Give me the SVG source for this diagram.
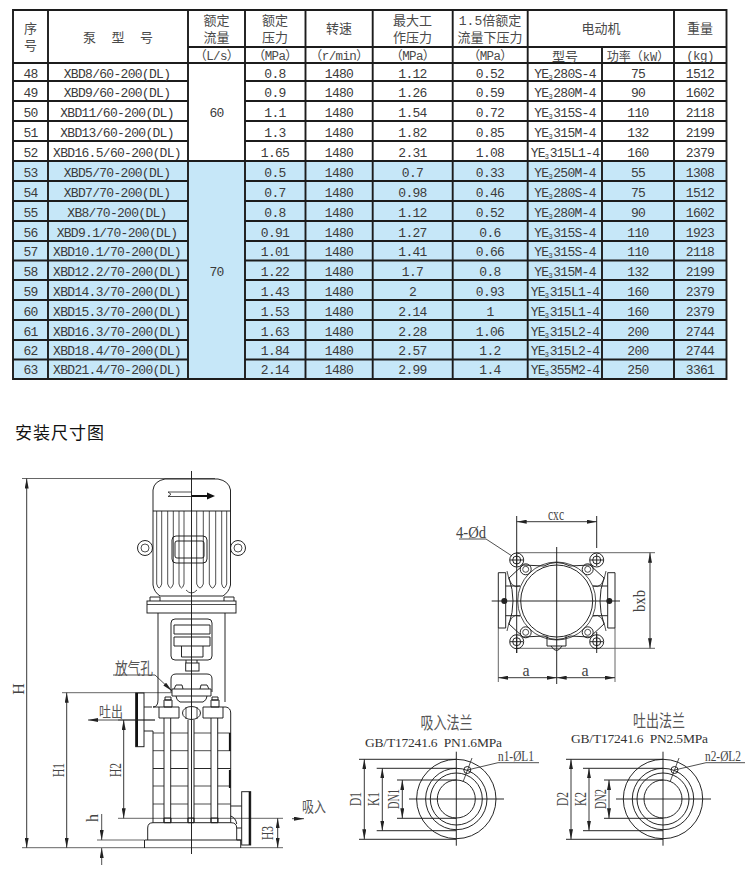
<svg xmlns="http://www.w3.org/2000/svg" width="750" height="892" viewBox="0 0 750 892">
<style>
text{font-family:"Liberation Serif","Noto Sans CJK SC",serif;fill:#333}
.t text{font-family:"Liberation Mono","Noto Sans CJK SC",monospace;font-size:13px;letter-spacing:-.7px;text-anchor:middle;fill:#3a3a3a}
.t .h{font-family:"Liberation Mono","Noto Sans CJK SC",sans-serif;font-size:13px;letter-spacing:0;fill:#4a4a4a}
.t .u{font-size:12.5px;letter-spacing:-.6px;fill:#4a4a4a}
.t .b{font-size:7px;letter-spacing:.6px}
.g{stroke:#1c1c1c;stroke-width:1.9;fill:none}
.d{stroke:#222;stroke-width:.8;fill:none}
.k{stroke:#1a1a1a;stroke-width:.95;fill:none}
.x{stroke:#666;stroke-width:1;fill:none}
.a{stroke:#222;stroke-width:.9;fill:none;marker-start:url(#ar);marker-end:url(#ar)}
.n{font-size:16px;text-anchor:middle;fill:#444}
.c{font-family:"Noto Sans CJK SC",sans-serif;text-anchor:middle;fill:#555}
</style>
<defs>
<marker id="ar" viewBox="0 0 10 4" refX="10" refY="2" markerUnits="userSpaceOnUse" markerWidth="10" markerHeight="4" orient="auto-start-reverse"><path d="M0 0L10 2L0 4z" fill="#222"/></marker>
</defs>
<rect width="750" height="892" fill="#fff"/>

<g id="table">
<rect x="13" y="161" width="713.5" height="218" fill="#c6e7f8"/>
<path class="g" d="M13 10H726.5V379H13ZM48 10V379M188 10V379M245 10V379M305.500 10V379M372.700 10V379M452.700 10V379M527.700 10V379M674 10V379M602 47V379M188 47H726.500M13 63H726.500"/>
<path class="g" d="M13 81H188M245 81H726.500M13 101H188M245 101H726.500M13 121H188M245 121H726.500M13 141H188M245 141H726.500M13 161H726.500M13 181H188M245 181H726.500M13 201H188M245 201H726.500M13 221H188M245 221H726.500M13 241H188M245 241H726.500M13 260.500H188M245 260.500H726.500M13 280H188M245 280H726.500M13 300H188M245 300H726.500M13 320H188M245 320H726.500M13 340H188M245 340H726.500M13 359.500H188M245 359.500H726.500"/>
<g class="t">
<text class="h" x="30.500" y="33">序</text><text class="h" x="30.500" y="50">号</text>
<text class="h" x="118" y="42" xml:space="preserve">泵  型  号</text>
<text class="h" x="216.500" y="25">额定</text><text class="h" x="216.500" y="42">流量</text><text class="u" x="216.500" y="60">（L/s）</text>
<text class="h" x="275" y="25">额定</text><text class="h" x="275" y="42">压力</text><text class="u" x="275" y="60">（MPa）</text>
<text class="h" x="339" y="33">转速</text><text class="u" x="339" y="60">（r/min）</text>
<text class="h" x="412.500" y="25">最大工</text><text class="h" x="412.500" y="42">作压力</text><text class="u" x="412.500" y="60">（MPa）</text>
<text class="h" x="490" y="25">1.5倍额定</text><text class="h" x="490" y="42">流量下压力</text><text class="u" x="490" y="60">（MPa）</text>
<text class="h" x="601" y="33">电动机</text><text class="h" x="565" y="61">型号</text><text class="h" x="638" y="61" style="font-size:12px">功率（kW）</text>
<text class="h" x="700" y="33">重量</text><text class="u" x="700" y="60">(kg)</text>
<text x="216.500" y="117">60</text><text x="216.500" y="276">70</text>

<text x="30.500" y="78">48</text><text x="117" y="78">XBD8/60-200(DL)</text><text x="275" y="78">0.8</text><text x="339" y="78">1480</text><text x="412.500" y="78">1.12</text><text x="490" y="78">0.52</text><text x="565" y="78">YE<tspan class="b" dy="2">3</tspan><tspan dy="-2">280S-4</tspan></text><text x="638" y="78">75</text><text x="700" y="78">1512</text>
<text x="30.500" y="97">49</text><text x="117" y="97">XBD9/60-200(DL)</text><text x="275" y="97">0.9</text><text x="339" y="97">1480</text><text x="412.500" y="97">1.26</text><text x="490" y="97">0.59</text><text x="565" y="97">YE<tspan class="b" dy="2">3</tspan><tspan dy="-2">280M-4</tspan></text><text x="638" y="97">90</text><text x="700" y="97">1602</text>
<text x="30.500" y="117">50</text><text x="117" y="117">XBD11/60-200(DL)</text><text x="275" y="117">1.1</text><text x="339" y="117">1480</text><text x="412.500" y="117">1.54</text><text x="490" y="117">0.72</text><text x="565" y="117">YE<tspan class="b" dy="2">3</tspan><tspan dy="-2">315S-4</tspan></text><text x="638" y="117">110</text><text x="700" y="117">2118</text>
<text x="30.500" y="137">51</text><text x="117" y="137">XBD13/60-200(DL)</text><text x="275" y="137">1.3</text><text x="339" y="137">1480</text><text x="412.500" y="137">1.82</text><text x="490" y="137">0.85</text><text x="565" y="137">YE<tspan class="b" dy="2">3</tspan><tspan dy="-2">315M-4</tspan></text><text x="638" y="137">132</text><text x="700" y="137">2199</text>
<text x="30.500" y="157">52</text><text x="117" y="157">XBD16.5/60-200(DL)</text><text x="275" y="157">1.65</text><text x="339" y="157">1480</text><text x="412.500" y="157">2.31</text><text x="490" y="157">1.08</text><text x="565" y="157">YE<tspan class="b" dy="2">3</tspan><tspan dy="-2">315L1-4</tspan></text><text x="638" y="157">160</text><text x="700" y="157">2379</text>
<text x="30.500" y="177">53</text><text x="117" y="177">XBD5/70-200(DL)</text><text x="275" y="177">0.5</text><text x="339" y="177">1480</text><text x="412.500" y="177">0.7</text><text x="490" y="177">0.33</text><text x="565" y="177">YE<tspan class="b" dy="2">3</tspan><tspan dy="-2">250M-4</tspan></text><text x="638" y="177">55</text><text x="700" y="177">1308</text>
<text x="30.500" y="197">54</text><text x="117" y="197">XBD7/70-200(DL)</text><text x="275" y="197">0.7</text><text x="339" y="197">1480</text><text x="412.500" y="197">0.98</text><text x="490" y="197">0.46</text><text x="565" y="197">YE<tspan class="b" dy="2">3</tspan><tspan dy="-2">280S-4</tspan></text><text x="638" y="197">75</text><text x="700" y="197">1512</text>
<text x="30.500" y="217">55</text><text x="117" y="217">XB8/70-200(DL)</text><text x="275" y="217">0.8</text><text x="339" y="217">1480</text><text x="412.500" y="217">1.12</text><text x="490" y="217">0.52</text><text x="565" y="217">YE<tspan class="b" dy="2">3</tspan><tspan dy="-2">280M-4</tspan></text><text x="638" y="217">90</text><text x="700" y="217">1602</text>
<text x="30.500" y="237">56</text><text x="117" y="237">XBD9.1/70-200(DL)</text><text x="275" y="237">0.91</text><text x="339" y="237">1480</text><text x="412.500" y="237">1.27</text><text x="490" y="237">0.6</text><text x="565" y="237">YE<tspan class="b" dy="2">3</tspan><tspan dy="-2">315S-4</tspan></text><text x="638" y="237">110</text><text x="700" y="237">1923</text>
<text x="30.500" y="256">57</text><text x="117" y="256">XBD10.1/70-200(DL)</text><text x="275" y="256">1.01</text><text x="339" y="256">1480</text><text x="412.500" y="256">1.41</text><text x="490" y="256">0.66</text><text x="565" y="256">YE<tspan class="b" dy="2">3</tspan><tspan dy="-2">315S-4</tspan></text><text x="638" y="256">110</text><text x="700" y="256">2118</text>
<text x="30.500" y="276">58</text><text x="117" y="276">XBD12.2/70-200(DL)</text><text x="275" y="276">1.22</text><text x="339" y="276">1480</text><text x="412.500" y="276">1.7</text><text x="490" y="276">0.8</text><text x="565" y="276">YE<tspan class="b" dy="2">3</tspan><tspan dy="-2">315M-4</tspan></text><text x="638" y="276">132</text><text x="700" y="276">2199</text>
<text x="30.500" y="296">59</text><text x="117" y="296">XBD14.3/70-200(DL)</text><text x="275" y="296">1.43</text><text x="339" y="296">1480</text><text x="412.500" y="296">2</text><text x="490" y="296">0.93</text><text x="565" y="296">YE<tspan class="b" dy="2">3</tspan><tspan dy="-2">315L1-4</tspan></text><text x="638" y="296">160</text><text x="700" y="296">2379</text>
<text x="30.500" y="316">60</text><text x="117" y="316">XBD15.3/70-200(DL)</text><text x="275" y="316">1.53</text><text x="339" y="316">1480</text><text x="412.500" y="316">2.14</text><text x="490" y="316">1</text><text x="565" y="316">YE<tspan class="b" dy="2">3</tspan><tspan dy="-2">315L1-4</tspan></text><text x="638" y="316">160</text><text x="700" y="316">2379</text>
<text x="30.500" y="336">61</text><text x="117" y="336">XBD16.3/70-200(DL)</text><text x="275" y="336">1.63</text><text x="339" y="336">1480</text><text x="412.500" y="336">2.28</text><text x="490" y="336">1.06</text><text x="565" y="336">YE<tspan class="b" dy="2">3</tspan><tspan dy="-2">315L2-4</tspan></text><text x="638" y="336">200</text><text x="700" y="336">2744</text>
<text x="30.500" y="355">62</text><text x="117" y="355">XBD18.4/70-200(DL)</text><text x="275" y="355">1.84</text><text x="339" y="355">1480</text><text x="412.500" y="355">2.57</text><text x="490" y="355">1.2</text><text x="565" y="355">YE<tspan class="b" dy="2">3</tspan><tspan dy="-2">315L2-4</tspan></text><text x="638" y="355">200</text><text x="700" y="355">2744</text>
<text x="30.500" y="374">63</text><text x="117" y="374">XBD21.4/70-200(DL)</text><text x="275" y="374">2.14</text><text x="339" y="374">1480</text><text x="412.500" y="374">2.99</text><text x="490" y="374">1.4</text><text x="565" y="374">YE<tspan class="b" dy="2">3</tspan><tspan dy="-2">355M2-4</tspan></text><text x="638" y="374">250</text><text x="700" y="374">3361</text>
</g>
</g>

<text x="15" y="439" style="font-family:'Noto Sans CJK SC',sans-serif;font-size:17px;fill:#111" textLength="89">安装尺寸图</text>

<g id="pump-side">
<path class="x" d="M22 478.500H215M22 847.700H283M62 692.700H172M118 720H155M118 818.300H283M97 840H144"/>
<path class="k" d="M191.500 471V854"/>
<path class="k" d="M153 511V490Q154 481 165 479H218Q229 481 230.500 490V511ZM153 511V585Q154 592 160 596H223Q229 592 230.500 585V511"/>
<path class="d" d="M156.700 511V584Q159 592 161.700 584V511M167.700 511V584Q170.500 592 173.300 584V511M179 511V584Q181.500 592 184 584V511M196.700 511V584Q200 592 203.300 584V511M209.300 511V584Q212.500 592 215.700 584V511M221.700 511V584Q224 592 226.700 584V511M186 590Q191.500 596 197 590"/>
<path class="d" d="M168 492H191M168 496.500H191M168 492L171 494.250L168 496.500"/>
<path d="M191.500 495H207V492.500L215 496L207 499.500V497H191.500Z" fill="#111"/>
<rect class="k" x="172" y="536" width="35" height="27" rx="4"/><rect class="k" x="175" y="541" width="29" height="17" rx="2"/>
<circle class="k" cx="145" cy="548" r="7.500"/><circle class="d" cx="145" cy="548" r="4"/><circle class="k" cx="238" cy="548" r="7.500"/><circle class="d" cx="238" cy="548" r="4"/>
<path class="k" d="M150 601V597H160V601M224 601V597H234V601"/>
<rect class="k" x="147" y="601" width="89" height="12"/>
<path class="d" d="M147 604.500H236"/>
<path class="k" d="M158 613V700Q158 707 153 707M225 613V702"/>
<rect class="k" x="171" y="619" width="41" height="41" rx="4"/>
<path class="k" d="M174 625H210V634H174ZM174 637H210V646H174ZM181.500 646V657H203V646M186 660V663M197 660V663"/>
<rect class="k" x="185.700" y="663" width="13.300" height="8"/>
<path class="k" d="M171 692V679Q171 674 176 674H207Q212 674 212 679V692"/>
<path class="k" d="M172 689H211V696H172ZM176 696Q176 700 180 702H203Q207 700 207 696M174 689L176 685H182L183 689M200 689L201 685H207L209 689"/>
<path class="k" d="M164 700H172V707H164ZM211 700H219V707H211ZM159 707H179V718H159ZM203 707H223V718H203ZM223 707H226Q230.700 708 230.700 713V822.700M153 731V822.700M144 707H152M144 731H153"/>
<path class="k" d="M165 697H171V700H165ZM212 697H218V700H212ZM153 707H159"/>
<ellipse class="k" cx="191.500" cy="713" rx="9" ry="6.500"/><path class="d" d="M186 707V719M197 707V719"/>
<rect class="k" x="135.700" y="693" width="8.300" height="53.700"/><path d="M135.700 693h2.300v53.700h-2.300z" fill="#111"/>
<path class="k" d="M164 718V822.700M170.700 718V822.700M188 720V822.700M194 720V822.700M211 718V822.700M217.700 718V822.700"/>
<path class="d" d="M153 733H164M170.700 733H188M194 733H211M217.700 733H230.700M153 750.700H164M170.700 750.700H188M194 750.700H211M217.700 750.700H230.700M153 786H164M170.700 786H188M194 786H211M217.700 786H230.700M153 804H164M170.700 804H188M194 804H211M217.700 804H230.700"/>
<path class="k" d="M153 768.500H164M170.700 768.500H188M194 768.500H211M217.700 768.500H230.700"/>
<path d="M228.900 733h1.800v18h-1.800zM228.900 770h1.800v18h-1.800z" fill="#111"/>
<path class="k" d="M164 818H171V822.700H164ZM188 818H194V822.700H188ZM211 818H218V822.700H211Z"/>
<path class="k" d="M147.700 840V828Q147.700 822.700 153 822.700H231Q236.700 822.700 236.700 828V840"/>
<path class="k" d="M144.500 848V840H240.700V848"/>
<rect class="k" x="241.700" y="791.700" width="9" height="53.300"/><path d="M248.700 791.700h2v53.300h-2z" fill="#111"/>
<path class="k" d="M230.700 806H241.700M230.700 816Q236 818 236.700 824M236.700 828H241.700M236.700 840H241.700"/>
<path class="a" d="M26.700 478.500V847.700"/>
<path class="a" d="M66.700 692.700V847.700"/>
<path class="a" d="M123.700 720V818.300"/>
<path class="a" d="M277.700 818.300V847.700"/>
<path class="d" d="M101.700 814V840" marker-end="url(#ar)"/>
<path class="d" d="M101.700 865V848" marker-end="url(#ar)"/>
<path class="d" d="M155 720H88" marker-end="url(#ar)"/>
<path class="d" d="M292 818.700H304" marker-end="url(#ar)"/>
<path class="d" d="M113 675H155L172 691" marker-end="url(#ar)"/>
<text class="c" x="134" y="674" font-size="16" textLength="38" lengthAdjust="spacingAndGlyphs">放气孔</text>
<text class="c" x="111" y="717" font-size="15" textLength="24" lengthAdjust="spacingAndGlyphs">吐出</text>
<text class="c" x="314" y="812" font-size="15" textLength="24" lengthAdjust="spacingAndGlyphs">吸入</text>
<text class="n" transform="translate(24 689) rotate(-90)">H</text>
<text class="n" transform="translate(64 770) rotate(-90)" textLength="14" lengthAdjust="spacingAndGlyphs">H1</text>
<text class="n" transform="translate(121 770) rotate(-90)" textLength="14" lengthAdjust="spacingAndGlyphs">H2</text>
<text class="n" transform="translate(98 818) rotate(-90)">h</text>
<text class="n" transform="translate(273 833) rotate(-90)" textLength="14" lengthAdjust="spacingAndGlyphs">H3</text>
</g>

<g id="pump-top">
<path class="x" d="M516 552.700H655M516 648.300H655M498.300 628V682M615 628V682"/>
<path class="k" d="M556.700 547V684M491.700 601H620M516.700 516V653M596.700 516V548M596.700 632V653"/>
<circle class="k" cx="556.700" cy="601" r="36"/>
<circle class="d" cx="556.700" cy="601" r="39"/>
<path class="k" d="M523 565L544 566Q556 559 570 566L590 565L604 578Q596 601 604 624L590 637L570 636Q556 643 544 636L523 637L509 624Q517 601 509 578Z"/>
<path class="d" d="M507 571Q510 590 520 586M606 571Q603 590 593 586M507 631Q510 612 520 616M606 631Q603 612 593 616"/>
<path class="k" d="M498.300 572.700H505.700V628H498.300ZM607.700 572.700H615V628H607.700ZM505.700 586H520M505.700 615.700H520M593 586H607.700M593 615.700H607.700"/>
<path class="k" d="M547 636V646H566V636M551 646Q556.700 655 562 646"/>
<g fill="#fff">
<circle class="k" cx="516.700" cy="560" r="7"/><circle class="k" cx="516.700" cy="560" r="4"/>
<circle class="k" cx="596.700" cy="560" r="7"/><circle class="k" cx="596.700" cy="560" r="4"/>
<circle class="k" cx="516.700" cy="641.700" r="7"/><circle class="k" cx="516.700" cy="641.700" r="4"/>
<circle class="k" cx="596.700" cy="641.700" r="7"/><circle class="k" cx="596.700" cy="641.700" r="4"/>
<circle class="k" cx="525.700" cy="569.300" r="5.500"/><circle class="d" cx="525.700" cy="569.300" r="3"/>
<circle class="k" cx="587.700" cy="569.300" r="5.500"/><circle class="d" cx="587.700" cy="569.300" r="3"/>
<circle class="k" cx="525.700" cy="632.300" r="5.500"/><circle class="d" cx="525.700" cy="632.300" r="3"/>
<circle class="k" cx="587.700" cy="632.300" r="5.500"/><circle class="d" cx="587.700" cy="632.300" r="3"/>
</g>
<circle cx="504.300" cy="601" r="3" fill="#222"/><circle cx="609.300" cy="601" r="3" fill="#222"/>
<path class="k" d="M516.700 554V566M510 560H523M596.700 554V566M590 560H603M516.700 635V653M510 641.700H523M590 641.700H603M596.700 635V648"/>
<path class="a" d="M516.700 521.700H596.700"/>
<path class="a" d="M650 552.700V648.300"/>
<path class="a" d="M498.300 677.700H556.700"/>
<path class="a" d="M556.700 677.700H615"/>
<path class="d" d="M459 539H486L512 556"/>
<text class="n" x="556" y="520" textLength="16" lengthAdjust="spacingAndGlyphs">cxc</text>
<text class="n" x="471" y="538" textLength="30" lengthAdjust="spacingAndGlyphs">4-Ød</text>
<text class="n" transform="translate(645 601) rotate(-90)" textLength="22" lengthAdjust="spacingAndGlyphs">bxb</text>
<text class="n" x="526" y="676">a</text><text class="n" x="585" y="676">a</text>
</g>

<g id="flange-in">
<circle class="k" cx="456.300" cy="799" r="39.700"/><circle class="k" cx="456.300" cy="799" r="30.700"/><circle class="k" cx="456.300" cy="799" r="26"/><circle class="k" cx="456.300" cy="799" r="19"/>
<path class="k" d="M409 799H504M456.300 751.700V845.700M359 759.300H456M359 839.300H456M376.700 768.300H456M376.700 830.700H456M397 780H456M397 818.300H456"/>
<circle class="k" cx="467.300" cy="770" r="3.500"/><path class="d" d="M472 758L463 782M467.300 770L498 762.700H539"/>
<path class="a" d="M364.300 759.300V839.300"/><path class="a" d="M382.300 768.300V830.700"/><path class="a" d="M402.300 780V818.300"/>
<text class="n" transform="translate(361 799) rotate(-90)" textLength="14" lengthAdjust="spacingAndGlyphs">D1</text>
<text class="n" transform="translate(379 799) rotate(-90)" textLength="14" lengthAdjust="spacingAndGlyphs">K1</text>
<text class="n" transform="translate(399 799) rotate(-90)" textLength="20" lengthAdjust="spacingAndGlyphs">DN1</text>
<text class="n" x="516" y="761" style="font-size:14px" textLength="36" lengthAdjust="spacingAndGlyphs">n1-ØL1</text>
<text class="c" x="446.500" y="729" font-size="17" textLength="52" lengthAdjust="spacingAndGlyphs">吸入法兰</text>
<text x="365" y="747" font-size="13.500" xml:space="preserve" fill="#444" textLength="137">GB/T17241.6  PN1.6MPa</text>
</g>

<g id="flange-out">
<circle class="k" cx="663" cy="799" r="39.700"/><circle class="k" cx="663" cy="799" r="30.700"/><circle class="k" cx="663" cy="799" r="26"/><circle class="k" cx="663" cy="799" r="19"/>
<path class="k" d="M616 799H711M663 751.700V845.700M566 759.300H663M566 839.300H663M583 768.300H663M583 830.700H663M604 780H663M604 818.300H663"/>
<circle class="k" cx="674.500" cy="770" r="3.500"/><path class="d" d="M679 758L670 782M674.500 770L706 762.700H745"/>
<path class="a" d="M571 759.300V839.300"/><path class="a" d="M589 768.300V830.700"/><path class="a" d="M609 780V818.300"/>
<text class="n" transform="translate(568 799) rotate(-90)" textLength="14" lengthAdjust="spacingAndGlyphs">D2</text>
<text class="n" transform="translate(586 799) rotate(-90)" textLength="14" lengthAdjust="spacingAndGlyphs">K2</text>
<text class="n" transform="translate(606 799) rotate(-90)" textLength="20" lengthAdjust="spacingAndGlyphs">DN2</text>
<text class="n" x="723" y="761" style="font-size:14px" textLength="36" lengthAdjust="spacingAndGlyphs">n2-ØL2</text>
<text class="c" x="659" y="727" font-size="17" textLength="52" lengthAdjust="spacingAndGlyphs">吐出法兰</text>
<text x="571" y="743" font-size="13.500" xml:space="preserve" fill="#444" textLength="137">GB/T17241.6  PN2.5MPa</text>
</g>
</svg>
